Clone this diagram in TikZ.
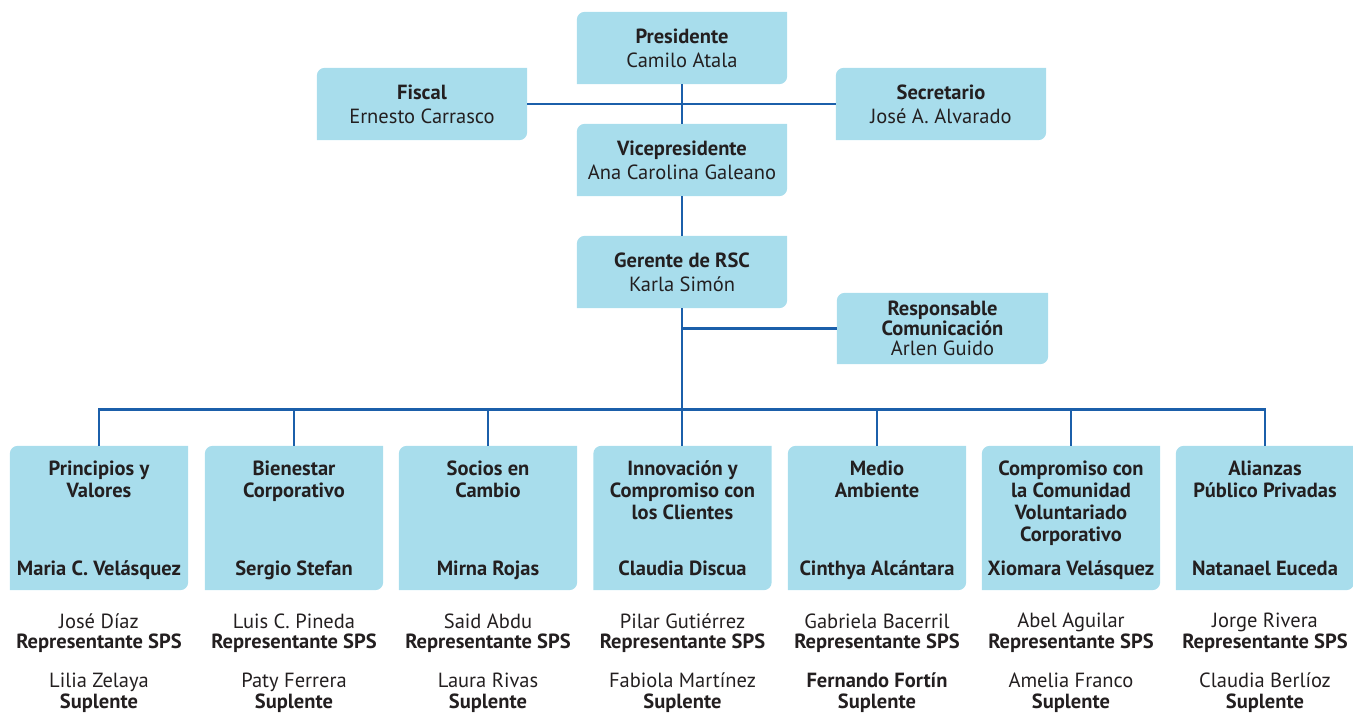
\documentclass[tikz,border=0pt]{standalone}
\usepackage{fontspec}
\setmainfont{PT Sans}
\usetikzlibrary{positioning,backgrounds}

\definecolor{boxblue}{HTML}{A8DDEC}
\definecolor{lineblue}{HTML}{1B5FAA}
\definecolor{ink}{HTML}{231F20}

\tikzset{
  txt/.style={text=ink, inner sep=0pt, align=center, font=\fontsize{20.5}{22}\selectfont},
  box/.style={txt, minimum width=210pt, minimum height=72pt, font=\fontsize{20.5}{24}\selectfont},
  area/.style={minimum width=178pt, minimum height=144pt, inner sep=0pt},
  areatitle/.style={txt, font=\fontsize{20.5}{22}\selectfont\bfseries},
  areaname/.style={txt, anchor=base, font=\fontsize{20.5}{22}\selectfont\bfseries},
  member/.style={txt, font=\fontsize{20.5}{20.5}\selectfont},
  link/.style={draw=lineblue, line width=2.8pt}
}

\begin{document}
\begin{tikzpicture}[x=1pt,y=1pt]
\useasboundingbox (0,0) rectangle (1353,-713);

% direccion
\node[box] (pres)   at (682,-48)  {\textbf{Presidente}\\Camilo Atala};
\node[box] (fiscal) at (422,-104) {\textbf{Fiscal}\\Ernesto Carrasco};
\node[box] (secre)  at (941,-104) {\textbf{Secretario}\\José A. Alvarado};
\node[box] (vice)   at (682,-160) {\textbf{Vicepresidente}\\Ana Carolina Galeano};
\node[box] (ger)    at (682,-272) {\textbf{Gerente de RSC}\\Karla Simón};
\node[box, minimum width=211pt, minimum height=71pt, font=\fontsize{20.5}{20}\selectfont]
  (resp) at (942.5,-328.5) {\textbf{Responsable}\\\textbf{Comunicación}\\Arlen Guido};

% comites
\node[area] (a1) at (99,-518)   {};
\node[area] (a2) at (294,-518)  {};
\node[area] (a3) at (488,-518)  {};
\node[area] (a4) at (682.5,-518)  {};
\node[area] (a5) at (877,-518)  {};
\node[area] (a6) at (1071,-518) {};
\node[area] (a7) at (1265,-518) {};

\node[areatitle, below=15pt of a1.north] {Principios y\\Valores};
\node[areatitle, below=15pt of a2.north] {Bienestar\\Corporativo};
\node[areatitle, below=15pt of a3.north] {Socios en\\Cambio};
\node[areatitle, below=15pt of a4.north] {Innovación y\\Compromiso con\\los Clientes};
\node[areatitle, below=15pt of a5.north] {Medio\\Ambiente};
\node[areatitle, below=15pt of a6.north] {Compromiso con\\la Comunidad\\Voluntariado\\Corporativo};
\node[areatitle, below=15pt of a7.north] {Alianzas\\Público Privadas};

\node[areaname] at ([yshift=15pt]a1.south) {Maria C. Velásquez};
\node[areaname] at ([yshift=15pt]a2.south) {Sergio Stefan};
\node[areaname] at ([yshift=15pt]a3.south) {Mirna Rojas};
\node[areaname] at ([yshift=15pt]a4.south) {Claudia Discua};
\node[areaname] at ([yshift=15pt]a5.south) {Cinthya Alcántara};
\node[areaname] at ([yshift=15pt]a6.south) {Xiomara Velásquez};
\node[areaname] at ([yshift=15pt]a7.south) {Natanael Euceda};

% representantes y suplentes
\node[member, below=23pt of a1.south] (r1) {José Díaz\\\textbf{Representante SPS}};
\node[member, below=23pt of a2.south] (r2) {Luis C. Pineda\\\textbf{Representante SPS}};
\node[member, below=23pt of a3.south] (r3) {Said Abdu\\\textbf{Representante SPS}};
\node[member, below=23pt of a4.south] (r4) {Pilar Gutiérrez\\\textbf{Representante SPS}};
\node[member, below=23pt of a5.south] (r5) {Gabriela Bacerril\\\textbf{Representante SPS}};
\node[member, below=23pt of a6.south] (r6) {Abel Aguilar\\\textbf{Representante SPS}};
\node[member, below=23pt of a7.south] (r7) {Jorge Rivera\\\textbf{Representante SPS}};

\node[member, below=20pt of r1] (s1) {Lilia Zelaya\\\textbf{Suplente}};
\node[member, below=20pt of r2] (s2) {Paty Ferrera\\\textbf{Suplente}};
\node[member, below=20pt of r3] (s3) {Laura Rivas\\\textbf{Suplente}};
\node[member, below=20pt of r4] (s4) {Fabiola Martínez\\\textbf{Suplente}};
\node[member, below=20pt of r5] (s5) {\textbf{Fernando Fortín}\\\textbf{Suplente}};
\node[member, below=20pt of r6] (s6) {Amelia Franco\\\textbf{Suplente}};
\node[member, below=20pt of r7] (s7) {Claudia Berlíoz\\\textbf{Suplente}};

% lineas
\draw[link] (pres) -- (vice);
\draw[link] (fiscal.east) -- (secre.west);
\draw[link] (vice) -- (ger);
\draw[link] (ger.south) -- (ger.south |- a4.north);
\draw[link] (ger.south |- resp.west) -- (resp.west);
\draw[link] (a1.north) -- ++(0,36) -| (a7.north);
\foreach \n in {a2,a3,a5,a6}
  \draw[link] (\n.north) -- ++(0,36);

% fondos
\begin{scope}[on background layer]
  \foreach \n in {pres,fiscal,secre,vice,ger,resp,a1,a2,a3,a4,a5,a6,a7}
    \fill[boxblue] (\n.south west) -- ([yshift=-8pt]\n.north west)
      arc[start angle=180, end angle=90, radius=8pt] -- (\n.north east)
      -- ([yshift=8pt]\n.south east)
      arc[start angle=0, end angle=-90, radius=8pt] -- cycle;
\end{scope}
\end{tikzpicture}
\end{document}
